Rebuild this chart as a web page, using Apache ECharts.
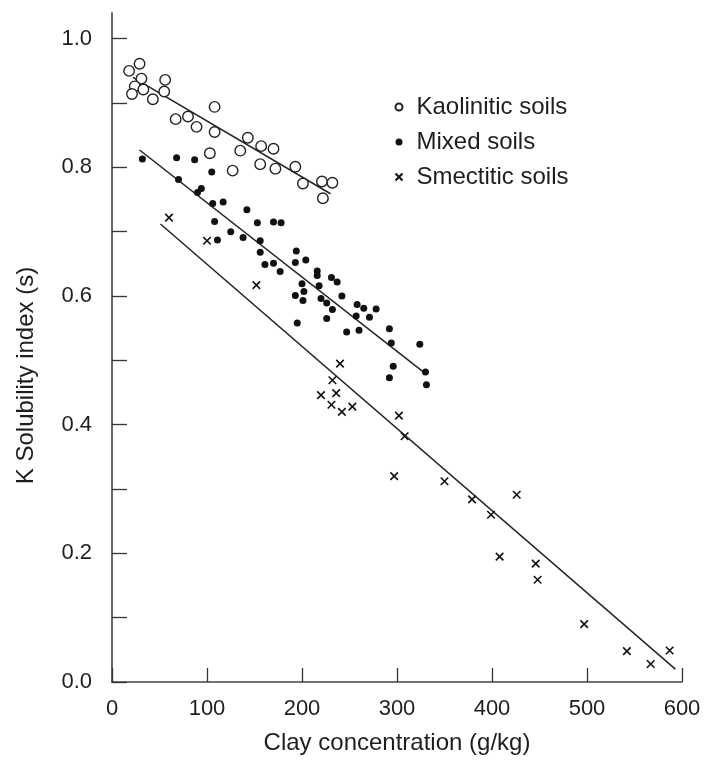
<!DOCTYPE html>
<html>
<head>
<meta charset="utf-8">
<script src="https://cdn.jsdelivr.net/npm/echarts@6/dist/echarts.min.js"></script>
<style>
  html, body { margin: 0; padding: 0; background: #fff; }
  #chart { width: 706px; height: 760px; }
</style>
</head>
<body>
<div id="chart"></div>
<script>
var kaoliniticX = [18, 29, 31, 24, 33, 21, 56, 55, 43, 108, 67, 80, 89, 108, 143, 135, 103, 157, 170, 156, 172, 127, 193, 201, 221, 232, 222]
var kaoliniticY = [0.950, 0.961, 0.938, 0.926, 0.921, 0.914, 0.936, 0.918, 0.906, 0.894, 0.875, 0.879, 0.863, 0.855, 0.846, 0.826, 0.822, 0.833, 0.829, 0.805, 0.798, 0.795, 0.801, 0.775, 0.778, 0.776, 0.752]

var mixedX = [32, 68, 87, 105, 70, 94, 90, 106, 117, 142, 108, 153, 170, 178, 125, 138, 111, 156, 156, 194, 204, 161, 170, 193, 177, 216, 216, 231, 237, 200, 218, 202, 193, 242, 201, 220, 226, 232, 195, 226, 258, 265, 278, 257, 271, 292, 247, 260, 294, 324, 296, 330, 292, 331]
var mixedY = [0.813, 0.815, 0.812, 0.793, 0.781, 0.767, 0.761, 0.744, 0.746, 0.734, 0.716, 0.714, 0.715, 0.714, 0.700, 0.691, 0.687, 0.686, 0.668, 0.670, 0.656, 0.649, 0.651, 0.652, 0.638, 0.639, 0.632, 0.629, 0.622, 0.619, 0.616, 0.607, 0.601, 0.600, 0.593, 0.596, 0.589, 0.579, 0.558, 0.565, 0.587, 0.581, 0.580, 0.569, 0.567, 0.549, 0.544, 0.547, 0.527, 0.525, 0.491, 0.482, 0.473, 0.462]

var smectiticX = [60, 100, 152, 240, 232, 220, 236, 231, 242, 253, 302, 308, 297, 350, 379, 426, 399, 408, 446, 448, 497, 542, 567, 587]
var smectiticY = [0.722, 0.686, 0.617, 0.495, 0.469, 0.446, 0.449, 0.431, 0.420, 0.428, 0.414, 0.382, 0.320, 0.312, 0.284, 0.291, 0.260, 0.195, 0.184, 0.159, 0.090, 0.048, 0.028, 0.049]

// fitted lines, end points
var kaoliniticFit = [[22, 0.940], [230, 0.759]]
var mixedFit = [[29, 0.827], [327, 0.483]]
var smectiticFit = [[51, 0.712], [593, 0.020]]

var seriesNames = ['Kaolinitic soils', 'Mixed soils', 'Smectitic soils']
var yLabelValues = [0, 0.2, 0.4, 0.6, 0.8, 1.0]
var yTickValues = [0, 0.1, 0.2, 0.3, 0.4, 0.5, 0.6, 0.7, 0.8, 0.9, 1.0]

function zip (xs, ys) {
  var out = []
  for (var i = 0; i < xs.length; i++) out.push([xs[i], ys[i]])
  return out
}

function fitLine (pts) {
  return {
    type: 'line',
    data: pts,
    symbol: 'none',
    silent: true,
    lineStyle: { color: '#222', width: 1.5 },
    z: 1
  }
}

var textColor = '#1e1e1e'
var font = 'Liberation Sans'

var chart = echarts.init(document.getElementById('chart'))
chart.setOption({
  animation: false,
  backgroundColor: '#fff',
  textStyle: { fontFamily: font },
  grid: { left: 112, right: 24, top: 13, bottom: 76 },
  legend: {
    orient: 'vertical',
    left: 388,
    top: 90,
    itemGap: 11,
    itemWidth: 7,
    itemHeight: 7,
    data: seriesNames,
    textStyle: { fontSize: 24, color: textColor, fontFamily: font, padding: [0, 0, 0, 9] }
  },
  xAxis: {
    type: 'value',
    min: 0,
    max: 600,
    interval: 100,
    name: 'Clay concentration (g/kg)',
    nameLocation: 'middle',
    nameGap: 49,
    nameTextStyle: { fontSize: 24, color: textColor },
    splitLine: { show: false },
    axisLine: { lineStyle: { color: '#444', width: 1.5 } },
    axisTick: { inside: true, length: 14, lineStyle: { color: '#333', width: 1.3 } },
    axisLabel: { fontSize: 22, color: textColor, margin: 16 }
  },
  yAxis: {
    type: 'value',
    min: 0,
    max: 1.04,
    name: 'K Solubility index (s)',
    nameLocation: 'middle',
    nameGap: 74,
    nameTextStyle: { fontSize: 24, color: textColor, padding: [0, 56, 0, 0] },
    splitLine: { show: false },
    axisLine: { lineStyle: { color: '#555', width: 1.8 } },
    axisTick: { inside: true, length: 15, customValues: yTickValues, lineStyle: { color: '#333', width: 1.3 } },
    axisLabel: {
      fontSize: 22,
      color: textColor,
      margin: 20,
      customValues: yLabelValues,
      formatter: function (v) { return v.toFixed(1) }
    }
  },
  series: [
    {
      name: seriesNames[0],
      type: 'scatter',
      data: zip(kaoliniticX, kaoliniticY),
      symbol: 'circle',
      symbolSize: 10.5,
      itemStyle: { color: '#fff', borderColor: '#222', borderWidth: 1.4, opacity: 1 },
      z: 3
    },
    {
      name: seriesNames[1],
      type: 'scatter',
      data: zip(mixedX, mixedY),
      symbol: 'circle',
      symbolSize: 7,
      itemStyle: { color: '#111', opacity: 1 },
      z: 3
    },
    {
      name: seriesNames[2],
      type: 'scatter',
      data: zip(smectiticX, smectiticY),
      symbol: 'path://M0,0L10,10M10,0L0,10',
      symbolSize: 7.5,
      itemStyle: { color: 'none', borderColor: '#111', borderWidth: 1.6, opacity: 1 },
      z: 3
    },
    fitLine(kaoliniticFit),
    fitLine(mixedFit),
    fitLine(smectiticFit)
  ]
})
</script>
</body>
</html>
